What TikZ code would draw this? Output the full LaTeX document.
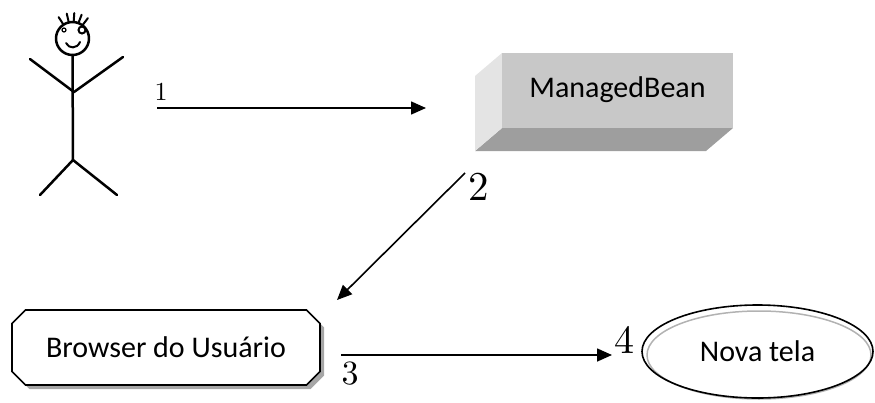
\documentclass[tikz,border=0pt]{standalone}
\usepackage{fontspec}
\newfontfamily\calibri{Carlito}
\usetikzlibrary{arrows.meta,shapes.geometric,shapes.misc,shadows}
\definecolor{frente}{HTML}{C8C8C8}
\definecolor{ladoesq}{HTML}{E4E4E4}
\definecolor{fundo}{HTML}{9E9E9E}
\tikzset{
  stick/.style={line width=2.5pt,line cap=round,line join=round},
  seta/.style={line width=1.6pt,-{Triangle[length=15pt,width=13pt]}},
  passo/.style={inner sep=0pt,font=\fontsize{10}{10}\selectfont,scale=#1},
  caixa/.style={inner sep=0pt,font=\calibri\fontsize{30}{30}\selectfont}
}
\begin{document}
\begin{tikzpicture}[x=1pt,y=-1pt]
      \useasboundingbox (0,0) rectangle (875,402);
      \draw[stick] (72.5,38.5) circle (16.5);
      \foreach \a in {123,103,86,69,53}
        \draw[stick,line width=2pt] (72.5,38.5) ++(-\a:16.5) -- ++(-\a:9);
      \draw[line width=1.2pt] (64,30) circle (2);
      \draw[line width=2pt] (82,30) circle (3.5);
      \draw[stick,line width=2pt] (66,43) .. controls (69,49) and (77,49) .. (80,42);
      \draw[stick] (72.5,55) -- (73,160);
      \draw[stick] (30,59) -- (74,92) -- (123,57);
      \draw[stick] (40,195) -- (73,160) -- (117,195);
      \fill[fundo] (502,128) -- (733,128) -- (706,151) -- (475,151) -- cycle;
      \fill[ladoesq] (502,53) -- (475,76) -- (475,151) -- (502,128) -- cycle;
      \node[caixa,fill=frente,minimum width=231pt,minimum height=75pt,
        text height=20pt,text depth=6pt] (bean) at (617.5,90.5) {ManagedBean\hspace{10pt}};
      \node[caixa,draw,line width=1.6pt,chamfered rectangle,chamfered rectangle xsep=22pt,
        minimum width=308pt,minimum height=75pt,fill=white,
        drop shadow={shadow xshift=4pt,shadow yshift=-4pt,fill=gray!70,opacity=1}]
        (browser) at (166,347.5) {Browser do Usuário};
      \draw[gray!60,line width=1.5pt] (759,355) ellipse (112 and 44);
      \node[caixa,draw,line width=1.6pt,ellipse,minimum width=231pt,minimum height=93pt]
        (tela) at (757.5,351.5) {Nova tela};
      \coordinate (s1) at (157,108);
      \coordinate (e1) at (426,108);
      \coordinate (s2) at (465,173);
      \coordinate (e2) at (337,300);
      \coordinate (s3) at (341,355);
      \coordinate (e3) at (612,355);
      \node[passo=2.6] (n1) at (161,91.5) {1};
      \node[passo=4.1] (n2) at (479,186.5) {2};
      \node[passo=3.4] (n3) at (350,374) {3};
      \node[passo=4.0] (n4) at (624,340) {4};
      \begin{scope}[seta]
        \draw (s1) to (e1);
        \draw (s2) to (e2);
        \draw (s3) to (e3);
      \end{scope}
    \end{tikzpicture}
\end{document}
